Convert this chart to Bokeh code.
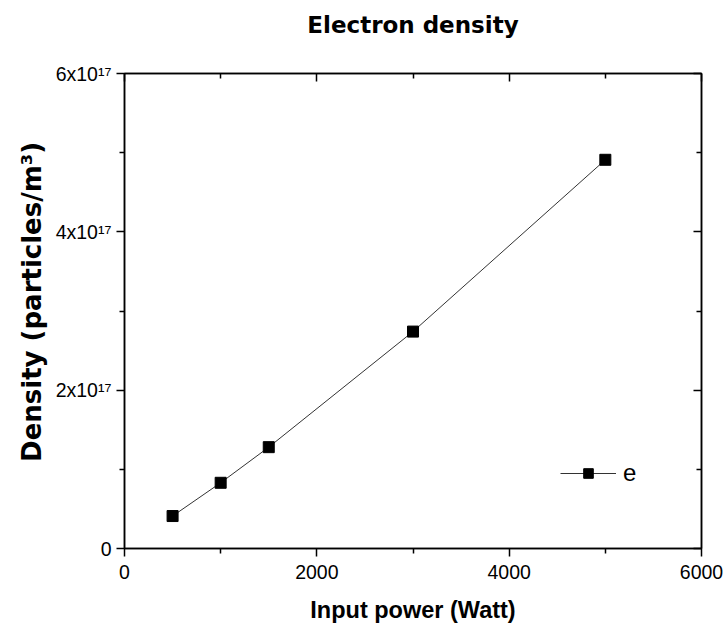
from bokeh.plotting import figure
from bokeh.models import FixedTicker, LinearAxis, Range1d, Legend, LegendItem
from bokeh.embed import file_html
from bokeh.resources import INLINE

title_text = "Electron density"
x_label = "Input power (Watt)"
y_label = "\u00a0\u00a0Density (particles/m³)"
power = [500, 1000, 1500, 3000, 5000]
density = [0.41e17, 0.83e17, 1.28e17, 2.74e17, 4.91e17]
x_ticks = [0, 2000, 4000, 6000]
x_minor = [1000, 3000, 5000]
y_ticks = [0, 2e17, 4e17, 6e17]
y_minor = [1e17, 3e17, 5e17]
y_tick_labels = ["0", "2x10¹⁷", "4x10¹⁷", "6x10¹⁷"]

FONT = "Liberation Sans"

p = figure(width=726, height=628, output_backend="svg", toolbar_location=None,
           x_range=Range1d(0, 6000), y_range=Range1d(0, 6e17),
           min_border_left=124, min_border_right=25, min_border_top=73, min_border_bottom=80)
p.grid.visible = False
p.outline_line_color = "black"
p.outline_line_width = 1.5

for ax, ticks, minor in [(p.xaxis[0], x_ticks, x_minor), (p.yaxis[0], y_ticks, y_minor)]:
    ax.ticker = FixedTicker(ticks=ticks, minor_ticks=minor)
    ax.axis_line_width = 1.5
    ax.major_tick_out = 8
    ax.major_tick_in = 0
    ax.minor_tick_out = 5
    ax.minor_tick_in = 0
    ax.major_tick_line_width = 1.5
    ax.minor_tick_line_width = 1.5
    ax.major_label_text_font = FONT
    ax.major_label_text_font_size = "19.5px"
    ax.major_label_text_color = "black"
    ax.axis_label_text_font = FONT
    ax.axis_label_text_font_size = "23.5px"
    ax.axis_label_text_font_style = "bold"
    ax.axis_label_text_color = "black"

p.xaxis[0].axis_label = x_label
p.xaxis[0].major_label_standoff = 8
p.xaxis[0].axis_label_standoff = 15
p.yaxis[0].axis_label = y_label
p.yaxis[0].axis_label_text_font = "DejaVu Sans"
p.yaxis[0].axis_label_text_font_size = "26px"
p.yaxis[0].axis_label_standoff = 6
p.yaxis[0].major_label_overrides = {t: l for t, l in zip(y_ticks, y_tick_labels)}
p.xaxis[0].major_label_overrides = {t: str(t) for t in x_ticks}

top = LinearAxis(ticker=FixedTicker(ticks=x_ticks, minor_ticks=x_minor))
right = LinearAxis(ticker=FixedTicker(ticks=y_ticks, minor_ticks=y_minor))
for ax, ticks in ((top, x_ticks), (right, y_ticks)):
    ax.major_label_overrides = {t: "" for t in ticks}
    ax.major_tick_in = 8
    ax.major_tick_out = 0
    ax.minor_tick_in = 5
    ax.minor_tick_out = 0
    ax.axis_line_width = 1.5
    ax.major_tick_line_width = 1.5
    ax.minor_tick_line_width = 1.5
top.axis_label = title_text
top.axis_label_text_font = "DejaVu Sans"
top.axis_label_text_font_size = "23px"
top.axis_label_text_font_style = "bold"
top.axis_label_text_color = "black"
top.axis_label_standoff = 36
p.add_layout(top, "above")
p.add_layout(right, "right")

ln = p.line(power, density, line_color="#333333", line_width=1)
mk = p.scatter(power, density, marker="square", size=11, fill_color="black", line_color="black")

legend = Legend(items=[LegendItem(label="e", renderers=[ln, mk])],
                location=(436, 61), glyph_width=56, glyph_height=24,
                label_text_font=FONT, label_text_font_size="24px", label_text_color="black",
                label_height=24,
                border_line_alpha=0, background_fill_alpha=0, padding=0, margin=0,
                label_standoff=7)
p.add_layout(legend, "center")

open("out.html", "w").write(file_html(p, INLINE))
